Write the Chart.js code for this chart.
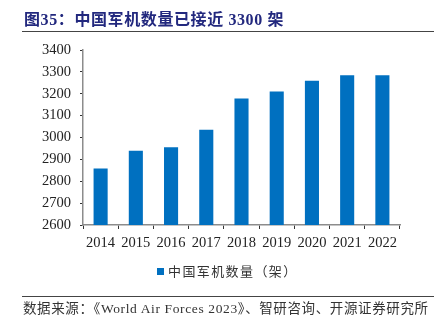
<!DOCTYPE html>
<html>
<head>
<meta charset="utf-8">
<script src="https://cdn.jsdelivr.net/npm/chart.js@4"></script>
<style>
    html, body { margin: 0; padding: 0; background: #fff; }
    #wrap { position: relative; width: 439px; height: 324px; overflow: hidden; }
    #chart { position: absolute; left: 0; top: 0; }
    .title {
        position: absolute; left: 24px; top: 6px;
        font: bold 16px "Liberation Serif", "Noto Sans CJK SC", serif;
        color: #22287e; white-space: nowrap; letter-spacing: 0.6px;
    }
    .rule { position: absolute; left: 22px; width: 412px; height: 1px; background: #444; }
    .legend {
        position: absolute; left: 157px; top: 261px;
        font: 13px "Noto Sans CJK SC", sans-serif; color: #333; white-space: nowrap;
        letter-spacing: 1.4px;
    }
    .legend .box { display: inline-block; width: 7px; height: 7px; background: #0070c0; margin-right: 4px; vertical-align: 1px; }
    .source {
        position: absolute; left: 23px; top: 297px;
        font: 13.5px "Liberation Serif", "Noto Sans CJK SC", serif; color: #333; white-space: nowrap;
        letter-spacing: 0.62px;
    }
</style>
</head>
<body>
<div id="wrap">
    <canvas id="chart" width="439" height="324"></canvas>
    <div class="title">图35：中国军机数量已接近 3300 架</div>
    <div class="rule" style="top:31px"></div>
    <div class="legend"><span class="box"></span>中国军机数量（架）</div>
    <div class="rule" style="top:296px"></div>
    <div class="source">数据来源：《World Air Forces 2023》、智研咨询、开源证券研究所</div>
</div>
<script>
const years    = ['2014', '2015', '2016', '2017', '2018', '2019', '2020', '2021', '2022'];
const aircraft = [2858, 2940, 2955, 3036, 3178, 3210, 3260, 3285, 3285];
const yTicks   = [2600, 2700, 2800, 2900, 3000, 3100, 3200, 3300, 3400];

const SERIES_NAME = '中国军机数量（架）';
const TICK_FONT   = { family: '"Liberation Serif", "Times New Roman", serif', size: 14.5 };

// ── Chart ─────────────────────────────────────────────────────
const ctx = document.getElementById('chart').getContext('2d');
new Chart(ctx, {
    type: 'bar',
    data: {
        labels: years,
        datasets: [{
            label: SERIES_NAME,
            data: aircraft,
            backgroundColor: '#0070c0',
            borderWidth: 0,
            barPercentage: 0.4,
            categoryPercentage: 1
        }]
    },
    options: {
        responsive: false,
        animation: false,
        layout: { padding: { left: 0, top: 50, right: 39, bottom: 0 } },
        plugins: {
            legend: { display: false },
            tooltip: { enabled: false }
        },
        scales: {
            x: {
                grid: {
                    offset: true,
                    drawOnChartArea: false,
                    drawTicks: true,
                    tickLength: 4,
                    color: '#333'
                },
                border: { color: '#8c8c8c', width: 1.5 },
                ticks: { font: TICK_FONT, color: '#222', padding: 5, maxRotation: 0 },
                afterFit: axis => { axis.height = 99; }
            },
            y: {
                min: 2600,
                max: 3400,
                afterBuildTicks: axis => { axis.ticks = yTicks.map(v => ({ value: v })); },
                grid: {
                    drawOnChartArea: false,
                    drawTicks: true,
                    tickLength: 3,
                    color: '#333'
                },
                border: { color: '#8c8c8c', width: 1.5 },
                ticks: {
                    font: TICK_FONT,
                    color: '#222',
                    padding: 9,
                    callback: v => String(v)
                },
                afterFit: axis => { axis.width = 83; }
            }
        }
    }
});
</script>
</body>
</html>
